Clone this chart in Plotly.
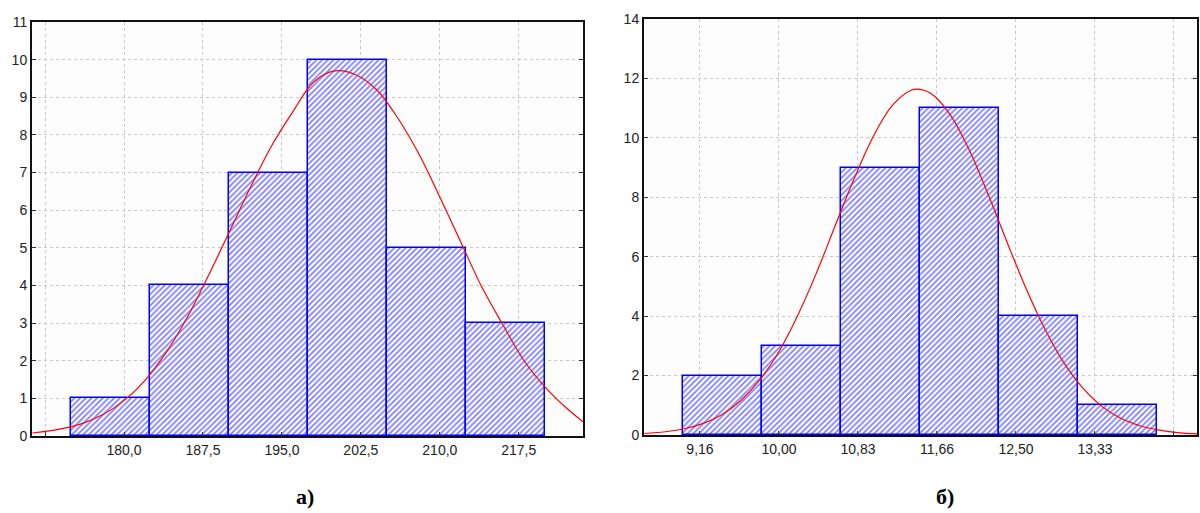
import plotly.graph_objects as go

# ---- Panel a) ----
a_bar_centers = [178.7, 186.2, 193.7, 201.2, 208.7, 216.2]
a_counts = [1, 4, 7, 10, 5, 3]
a_bar_width = 7.5
a_curve_x = [171.3, 174.0, 176.0, 178.0, 180.0, 182.0, 184.0, 186.0, 188.0, 190.0, 192.0, 194.0,
             196.0, 198.0, 200.0, 202.0, 204.0, 206.0, 208.0, 210.0, 212.0, 214.0, 216.0, 218.0,
             220.0, 222.0, 223.6]
a_curve_y = [0.08, 0.19, 0.33, 0.57, 0.94, 1.48, 2.22, 3.15, 4.25, 5.42, 6.6, 7.7,
             8.6, 9.4, 9.7, 9.6, 9.2, 8.45, 7.5, 6.35, 5.15, 3.95, 2.95, 2.0,
             1.3, 0.75, 0.38]
a_tickvals = [172.5, 180.0, 187.5, 195.0, 202.5, 210.0, 217.5]
a_ticktext = ["", "180,0", "187,5", "195,0", "202,5", "210,0", "217,5"]
a_xrange = [171.26, 223.6]
a_yrange = [0, 11]

# ---- Panel б) ----
b_bar_centers = [9.404, 10.237, 11.070, 11.904, 12.737, 13.570]
b_counts = [2, 3, 9, 11, 4, 1]
b_bar_width = 0.8333
b_curve_x = [8.58, 8.8, 9.0, 9.2, 9.4, 9.6, 9.8, 10.0, 10.2, 10.4, 10.6, 10.8, 11.0, 11.2,
             11.4, 11.47, 11.6, 11.8, 12.0, 12.2, 12.4, 12.6, 12.8, 13.0, 13.2, 13.4, 13.6,
             13.8, 14.0, 14.2, 14.41]
b_curve_y = [0.05, 0.11, 0.21, 0.39, 0.69, 1.17, 1.86, 2.81, 4.04, 5.49, 7.1, 8.68, 10.08, 11.11,
             11.61, 11.64, 11.5, 10.81, 9.64, 8.15, 6.54, 4.98, 3.6, 2.46, 1.6, 0.98, 0.57,
             0.32, 0.17, 0.08, 0.04]
b_tickvals = [9.1667, 10.0, 10.8333, 11.6667, 12.5, 13.3333, 14.1667]
b_ticktext = ["9,16", "10,00", "10,83", "11,66", "12,50", "13,33", ""]
b_xrange = [8.576, 14.41]
b_yrange = [0, 14]

BLUE = "#0000ff"
RED = "#ff0000"
GRID = "#c8c8c8"
FONT = "Liberation Sans, Arial, sans-serif"

fig = go.Figure()

bar_marker = dict(
    color="#ffffff",
    line=dict(color=BLUE, width=1.5),
    pattern=dict(shape="/", fgcolor=BLUE, bgcolor="#ffffff", size=4, solidity=0.45, fillmode="overlay"),
)

fig.add_trace(go.Bar(x=a_bar_centers, y=a_counts, width=a_bar_width, marker=bar_marker,
                     xaxis="x", yaxis="y", showlegend=False))
fig.add_trace(go.Scatter(x=a_curve_x, y=a_curve_y, mode="lines", line=dict(color=RED, width=1.2, shape="spline"),
                         xaxis="x", yaxis="y", showlegend=False))
fig.add_trace(go.Bar(x=b_bar_centers, y=b_counts, width=b_bar_width, marker=bar_marker,
                     xaxis="x2", yaxis="y2", showlegend=False))
fig.add_trace(go.Scatter(x=b_curve_x, y=b_curve_y, mode="lines", line=dict(color=RED, width=1.2, shape="spline"),
                         xaxis="x2", yaxis="y2", showlegend=False))

xcommon = dict(showgrid=True, gridcolor=GRID, griddash="dot", gridwidth=1,
               showline=True, linecolor="#111111", linewidth=2, mirror=True,
               ticks="inside", ticklen=4, tickcolor="#333333",
               tickfont=dict(family=FONT, size=14, color="#222222"),
               zeroline=False, tickmode="array", automargin=False)
ycommon = dict(showgrid=True, gridcolor=GRID, griddash="dot", gridwidth=1,
               showline=True, linecolor="#111111", linewidth=2, mirror="ticks",
               ticks="inside", ticklen=4, tickcolor="#333333",
               tickfont=dict(family=FONT, size=14, color="#222222"),
               zeroline=False, automargin=False)

fig.update_layout(
    width=1200, height=513,
    margin=dict(l=0, r=0, t=0, b=0, autoexpand=False),
    paper_bgcolor="#ffffff",
    plot_bgcolor="#fdfdfd",
    bargap=0,
    xaxis=dict(domain=[32/1200, 583/1200], range=a_xrange, tickvals=a_tickvals, ticktext=a_ticktext,
               anchor="y", **xcommon),
    yaxis=dict(domain=[(513-436)/513, (513-22)/513], range=a_yrange, dtick=1, anchor="x", **ycommon),
    xaxis2=dict(domain=[644/1200, 1197/1200], range=b_xrange, tickvals=b_tickvals, ticktext=b_ticktext,
                anchor="y2", **xcommon),
    yaxis2=dict(domain=[(513-435)/513, (513-19)/513], range=b_yrange, dtick=2, anchor="x2", **ycommon),
    annotations=[
        dict(text="<b>а)</b>", x=294/1200, y=1-511/513, xref="paper", yref="paper", yanchor="bottom",
             showarrow=False, font=dict(family="Liberation Serif, Times New Roman, serif", size=22, color="#000000")),
        dict(text="<b>б)</b>", x=956/1200, y=1-511/513, xref="paper", yref="paper", yanchor="bottom",
             showarrow=False, font=dict(family="Liberation Serif, Times New Roman, serif", size=22, color="#000000")),
    ],
)

fig.write_html("out.html", config={"displayModeBar": False},
               post_script="document.body.style.margin='0px';")
